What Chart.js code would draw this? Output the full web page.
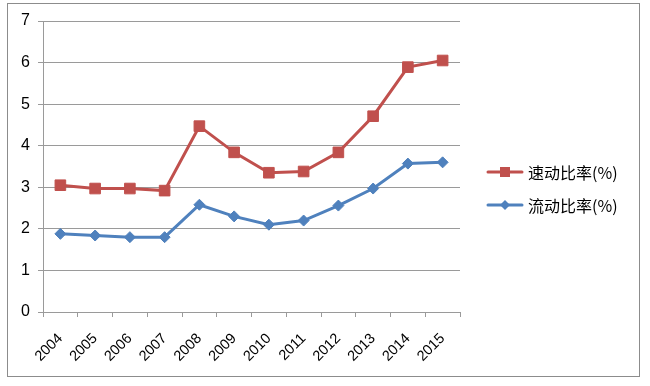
<!DOCTYPE html>
<html>
<head>
<meta charset="utf-8">
<script src="https://cdn.jsdelivr.net/npm/chart.js@4"></script>
<style>
  html, body { margin: 0; padding: 0; background: #fff; }
  #wrap { position: absolute; left: 0; top: 0; width: 650px; height: 386px; }
</style>
</head>
<body>
<div id="wrap"><canvas id="chart" width="650" height="386"></canvas></div>
<script>
// data
const years = ['2004', '2005', '2006', '2007', '2008', '2009', '2010', '2011', '2012', '2013', '2014', '2015'];
const quickRatio = [3.05, 2.97, 2.97, 2.92, 4.47, 3.84, 3.35, 3.38, 3.84, 4.71, 5.89, 6.05];
const currentRatio = [1.88, 1.84, 1.80, 1.80, 2.58, 2.30, 2.10, 2.20, 2.56, 2.97, 3.57, 3.60];
const seriesNames = ['速动比率(%)', '流动比率(%)'];

const RED = '#C0504D';
const BLUE = '#4F81BD';
const GRID = '#9a9a9a';

const framePlugin = {
    id: 'frame',
    beforeDraw(chart) {
        const ctx = chart.ctx;
        ctx.save();
        ctx.fillStyle = '#fff';
        ctx.fillRect(0, 0, chart.width, chart.height);
        ctx.strokeStyle = '#8c8c8c';
        ctx.lineWidth = 1;
        ctx.strokeRect(7.5, 3.5, 632, 373);
        ctx.restore();
    }
};

// excel style legend: line sample with the marker in the middle
const sideLegend = {
    id: 'sideLegend',
    afterDraw(chart) {
        const ctx = chart.ctx;
        const rows = [172, 205];
        chart.data.datasets.forEach((ds, i) => {
            const y = rows[i];
            ctx.save();
            ctx.strokeStyle = ds.borderColor;
            ctx.lineWidth = 3;
            ctx.lineCap = 'round';
            ctx.beginPath();
            ctx.moveTo(488, y);
            ctx.lineTo(522, y);
            ctx.stroke();
            ctx.fillStyle = ds.borderColor;
            ctx.beginPath();
            if (ds.pointStyle === 'rect') {
                ctx.rect(500, y - 5, 10, 10);
            } else {
                ctx.moveTo(505, y - 5);
                ctx.lineTo(510, y);
                ctx.lineTo(505, y + 5);
                ctx.lineTo(500, y);
                ctx.closePath();
            }
            ctx.fill();
            ctx.fillStyle = '#000';
            ctx.font = '16px "Noto Sans CJK SC"';
            ctx.textBaseline = 'middle';
            ctx.fillText(ds.label, 528, y + 1);
            ctx.restore();
        });
    }
};

new Chart(document.getElementById('chart'), {
    type: 'line',
    data: {
        labels: years,
        datasets: [{
            label: seriesNames[0],
            data: quickRatio,
            borderColor: RED,
            backgroundColor: RED,
            borderWidth: 3,
            pointStyle: 'rect',
            pointRadius: 7.5,
            pointBorderWidth: 1,
            tension: 0
        }, {
            label: seriesNames[1],
            data: currentRatio,
            borderColor: BLUE,
            backgroundColor: BLUE,
            borderWidth: 3,
            pointStyle: 'rectRot',
            pointRadius: 5.5,
            pointBorderWidth: 1,
            tension: 0
        }]
    },
    options: {
        responsive: false,
        animation: false,
        layout: {
            padding: { left: 0, top: 21, right: 190, bottom: 0 }
        },
        plugins: {
            legend: { display: false },
            tooltip: { enabled: false }
        },
        scales: {
            x: {
                offset: true,
                grid: {
                    offset: true,
                    drawOnChartArea: false,
                    color: GRID,
                    tickLength: 5
                },
                border: { color: GRID },
                ticks: {
                    minRotation: 45,
                    maxRotation: 45,
                    padding: 13,
                    color: '#000',
                    font: { family: 'Liberation Sans', size: 14.5 }
                },
                afterFit(scale) { scale.height = 74; }
            },
            y: {
                min: 0,
                max: 7,
                grid: { color: GRID, tickLength: 5 },
                border: { color: GRID },
                ticks: {
                    stepSize: 1,
                    padding: 8,
                    color: '#000',
                    font: { family: 'Liberation Sans', size: 16 }
                },
                afterFit(scale) { scale.width = 43; }
            }
        }
    },
    plugins: [framePlugin, sideLegend]
});
</script>
</body>
</html>
